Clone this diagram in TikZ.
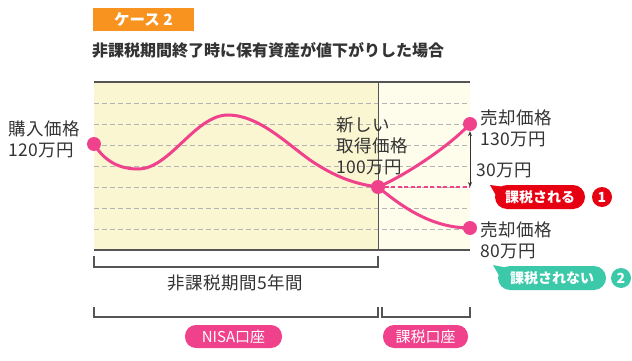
\documentclass[tikz,border=0pt]{standalone}
\usepackage{fontspec}
\setmainfont{Noto Sans CJK JP}
\usetikzlibrary{arrows.meta}
\definecolor{pinkc}{HTML}{F0418C}
\definecolor{orangec}{HTML}{F7931E}
\definecolor{redc}{HTML}{E60012}
\definecolor{tealc}{HTML}{3CC9AA}
\definecolor{fillL}{HTML}{FAF6D2}
\definecolor{fillR}{HTML}{FEFCEA}
\definecolor{gridc}{HTML}{B4B4B4}
\definecolor{textc}{HTML}{333333}
\definecolor{framec}{HTML}{555555}
\tikzset{
  gridline/.style={gridc, line width=0.9pt, dash pattern=on 5pt off 3pt},
  framel/.style={framec, line width=1.3pt},
  curve/.style={pinkc, line width=3pt, line cap=round},
  dot/.style={circle, fill=pinkc, minimum size=14pt, inner sep=0pt},
  lbl/.style={text=textc, align=left, anchor=west, inner sep=0pt, font=\fontsize{17.5}{21}\selectfont\addfontfeatures{LetterSpace=3}},
  bracketl/.style={framec, line width=1.2pt},
  pill/.style={rounded corners=11pt, text=white, inner sep=0pt, font=\fontsize{15}{16}\selectfont},
  bubble/.style={rounded corners=12pt, text=white, inner sep=0pt, font=\bfseries\fontsize{14}{15}\selectfont},
  numc/.style={circle, text=white, inner sep=0pt, minimum size=20pt, font=\bfseries\fontsize{14}{15}\selectfont},
}
\begin{document}
\begin{tikzpicture}[x=1pt,y=-1pt]
\useasboundingbox (0,0) rectangle (632,361);
% header
\node[fill=orangec, minimum width=101pt, minimum height=23pt, inner sep=0pt, text=white, font=\bfseries\fontsize{15.5}{16}\selectfont] (tag) at (143.5,19.5) {ケース 2};
\node[anchor=west, inner sep=0pt, text=textc, font=\bfseries\fontsize{16}{18}\selectfont] (title) at (92,50) {非課税期間終了時に保有資産が値下がりした場合};
% chart background
\fill[fillL] (94,82) rectangle (378,250);
\fill[fillR] (378,82) rectangle (470,250);
\foreach \yy in {103,124,145,166,187,208,229} \draw[gridline] (94,\yy) -- (470,\yy);
\draw[framel] (94,82) -- (470,82);
\draw[framel] (94,250) -- (470,250);
\draw[framec, line width=0.8pt] (378,82) -- (378,250);
% points
\coordinate (p0) at (94,144);
\coordinate (pm) at (378,187);
\coordinate (pu) at (470,124);
\coordinate (pd) at (470,228);
\coordinate (dend) at (470,187);
% curves
\draw[curve] (p0) .. controls (105,162) and (120,169) .. (138,169)
  .. controls (170,169) and (195,115) .. (228,115)
  .. controls (258,115) and (285,142) .. (310,160)
  .. controls (335,177) and (355,184) .. (pm);
\draw[curve] (pm) .. controls (400,178) and (445,150) .. (pu);
\draw[curve] (pm) .. controls (400,205) and (430,228) .. (pd);
\draw[pinkc, line width=1.5pt, dash pattern=on 4pt off 2.5pt] (pm) -- (dend);
\node[dot] (n0) at (p0) {};
\node[dot] (nm) at (pm) {};
\node[dot] (nu) at (pu) {};
\node[dot] (nd) at (pd) {};
\draw[textc, line width=0.9pt, {Stealth[length=5pt,width=4pt]}-{Stealth[length=5pt,width=4pt]}] (nu.south) -- (dend);
% labels
\node[lbl] (buy) at (8,139) {購入価格\\120万円};
\node[lbl] (newp) at (336,146) {新しい\\取得価格\\100万円};
\node[lbl] (s130) at (480,128) {売却価格\\130万円};
\node[lbl] (diff) at (476,170) {30万円};
\node[lbl] (s80) at (480,240) {売却価格\\80万円};
% bubbles
\fill[redc] (490,185) -- (505,187) -- (498,199) -- cycle;
\node[bubble, fill=redc, minimum width=90pt, minimum height=24pt] (taxed) at (540,197) {課税される};
\node[numc, fill=redc] (one) at (602,197) {1};
\fill[tealc] (493,265) -- (508,268) -- (501,279) -- cycle;
\node[bubble, fill=tealc, minimum width=108pt, minimum height=24pt] (untaxed) at (552,278) {課税されない};
\node[numc, fill=tealc] (two) at (621,278) {2};
% brackets
\draw[bracketl] (94,256) |- (378,267) -- (378,256);
\node[text=textc, inner sep=0pt, font=\fontsize{17.5}{20}\selectfont\addfontfeatures{LetterSpace=3}] (period) at (235,283) {非課税期間5年間};
\draw[bracketl] (94,307) |- (378,317) -- (378,307);
\draw[bracketl] (382,307) |- (470,317) -- (470,307);
\node[pill, fill=pinkc, minimum width=97pt, minimum height=23pt] (nisa) at (233.5,336.5) {NISA口座};
\node[pill, fill=pinkc, minimum width=85pt, minimum height=23pt] (kazei) at (425.5,336.5) {課税口座};
\end{tikzpicture}
\end{document}
